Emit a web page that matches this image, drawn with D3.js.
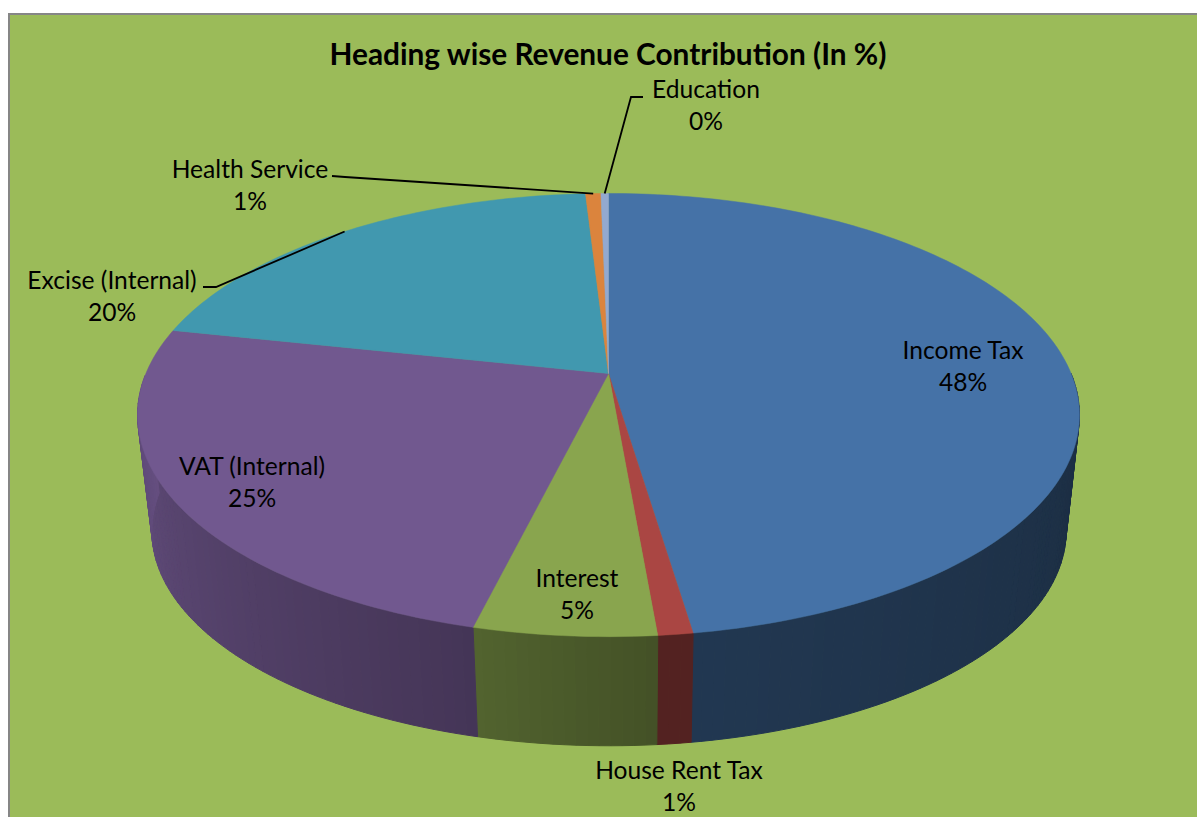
<!DOCTYPE html>
<html>
<head>
<meta charset="utf-8">
<style>
    body { margin: 0; background: #ffffff; }
    svg { display: block; }
    text { font-family: Lato, "Open Sans", sans-serif; fill: #000000; }
</style>
</head>
<body>
<svg></svg>
<script src="https://cdn.jsdelivr.net/npm/d3@7"></script>
<script>

const title = "Heading wise Revenue Contribution (In %)"

const categories = ["Income Tax", "House Rent Tax", "Interest", "VAT (Internal)", "Excise (Internal)", "Health Service", "Education"]
const values = [47.62, 1.0, 5.23, 24.5, 20.71, 0.63, 0.31]
const percentLabels = ["48%", "1%", "5%", "25%", "20%", "1%", "0%"]

const topColors = ["#4572a7", "#aa4643", "#89a54e", "#71588f", "#4198af", "#db843d", "#93a9cf"]

// where each label sits, centre of the first line
const labelSpots = [[963, 351], [679, 771], [577, 579], [252, 467], [112, 281], [250, 170], [706, 90]]

// leader lines run from the label to the middle of the slice on the rim
const leaderBends = {
    4: [[203, 287], [216, 287]],
    5: [[332, 176], [345, 177]],
    6: [[643, 97], [631, 97]]
}

const svg = d3.select("svg")
    .attr("width", 1197)
    .attr("height", 817)

svg.append("rect")
    .attr("x", 9)
    .attr("y", 14)
    .attr("width", 1200)
    .attr("height", 820)
    .style("fill", "#9bbb59")
    .style("stroke", "#868686")
    .style("stroke-width", 2)

// the pie is a flat disc seen in perspective, so the centre is above the middle of the ellipse
const k = 0.1875

const project = function(angle, plane) {
    const x = Math.sin(angle)
    const z = -Math.cos(angle)
    const w = 1 - k * z
    return [plane.cx + plane.a * x / w, plane.cy + plane.b * z / w]
}

const topPlane = { cx: 608.5, cy: 373.5, a: 462.6, b: 213.8 }
const bottomPlane = { cx: 609, cy: 491, a: 449, b: 207 }

const pieGenerator = d3.pie()
    .sort(null)

const arcData = pieGenerator(values)

const step = Math.PI / 150

const anglesFor = function(d) {
    const angles = d3.range(d.startAngle, d.endAngle, step)
    angles.push(d.endAngle)
    return angles
}

const line = d3.line()

// how dark the side wall gets going round the pie
const shade = d3.scaleLinear()
    .domain([90, 175, 197, 285])
    .range([0.39, 0.49, 0.62, 0.95])
    .clamp(true)

const walls = svg.append("g")

arcData.forEach(function(d) {
    const angles = anglesFor(d)

    d3.pairs(angles).forEach(function(pair) {
        const mid = (pair[0] + pair[1]) / 2

        // the back half of the wall is hidden behind the top
        if (Math.cos(mid) > 0) {
            return
        }

        const color = d3.rgb(topColors[d.index])
        const f = shade(mid * 180 / Math.PI)
        const stripColor = d3.rgb(color.r * f, color.g * f, color.b * f).formatHex()

        const outline = [
            project(pair[0], topPlane),
            project(pair[1], topPlane),
            project(pair[1], bottomPlane),
            project(pair[0], bottomPlane)
        ]

        walls.append("path")
            .attr("d", line(outline) + "Z")
            .style("fill", stripColor)
            .style("stroke", stripColor)
            .style("stroke-width", 1)
    })
})

const center = [topPlane.cx, topPlane.cy]

svg.append("g")
    .selectAll("path")
    .data(arcData)
    .enter()
    .append("path")
    .attr("d", function(d) {
        const rim = anglesFor(d).map(a => project(a, topPlane))
        return line([center].concat(rim)) + "Z"
    })
    .style("fill", (d, i) => { return topColors[i] })
    .style("stroke", (d, i) => { return topColors[i] })
    .style("stroke-width", 0.5)

// leader lines
svg.append("g")
    .selectAll("path")
    .data(arcData.filter(d => leaderBends[d.index]))
    .enter()
    .append("path")
    .attr("d", function(d) {
        const end = project((d.startAngle + d.endAngle) / 2, topPlane)
        return line(leaderBends[d.index].concat([end]))
    })
    .style("fill", "none")
    .style("stroke", "#000000")
    .style("stroke-width", 1.8)

svg.append("text")
    .attr("x", 608)
    .attr("y", 65)
    .attr("text-anchor", "middle")
    .style("font-size", "29.8px")
    .style("font-weight", "bold")
    .text(title)

const labels = svg.append("g")
    .selectAll("text")
    .data(arcData)
    .enter()
    .append("text")
    .attr("text-anchor", "middle")
    .style("font-size", "24.6px")

labels.append("tspan")
    .attr("x", (d, i) => labelSpots[i][0])
    .attr("y", (d, i) => labelSpots[i][1] + 8)
    .text((d, i) => categories[i])

labels.append("tspan")
    .attr("x", (d, i) => labelSpots[i][0])
    .attr("dy", 32)
    .text((d, i) => percentLabels[i])

</script>
</body>
</html>
